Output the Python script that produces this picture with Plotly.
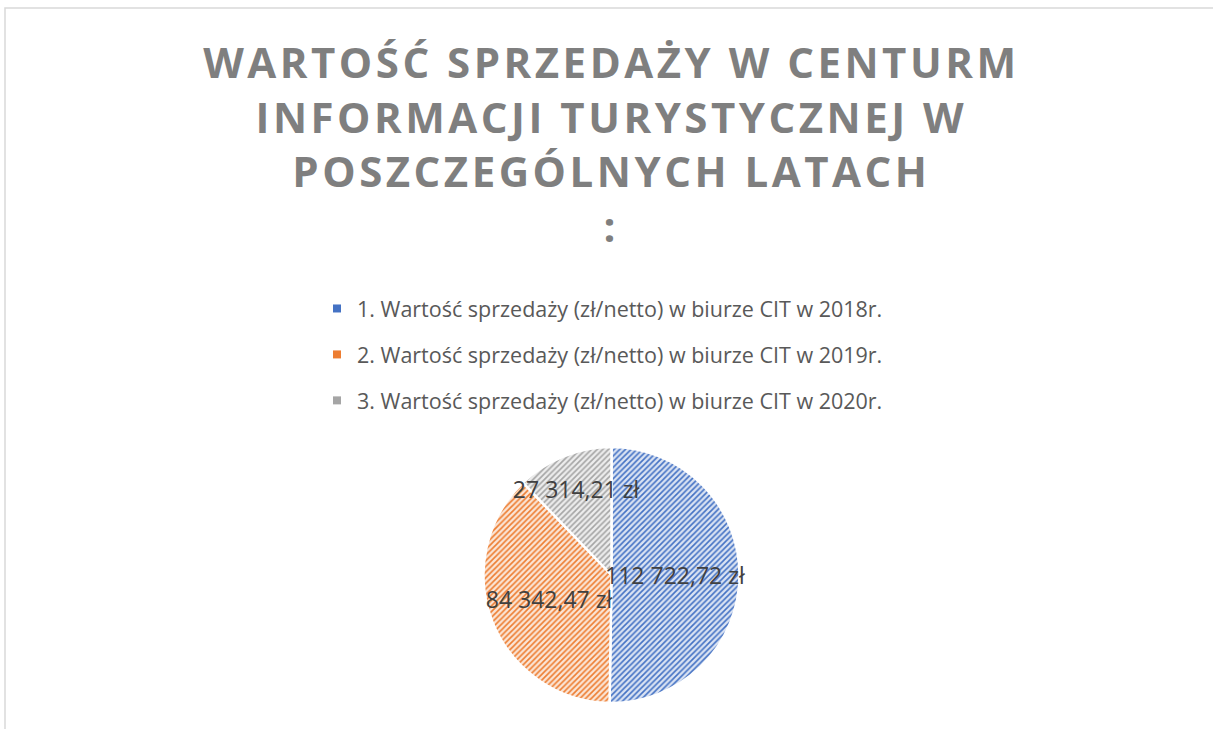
import plotly.graph_objects as go

labels = [
    "1. Wartość sprzedaży (zł/netto) w biurze CIT w 2018r.",
    "2. Wartość sprzedaży (zł/netto) w biurze CIT w 2019r.",
    "3. Wartość sprzedaży (zł/netto) w biurze CIT w 2020r.",
]
values = [112722.72, 84342.47, 27314.21]
colors = ["#4472C4", "#ED7D31", "#A5A5A5"]
bg_colors = ["#DAE3F3", "#FBE5D6", "#EDEDED"]
title_lines = ["WARTOŚĆ SPRZEDAŻY W CENTURM", "INFORMACJI TURYSTYCZNEJ W",
               "POSZCZEGÓLNYCH LATACH", ":"]

W, H = 1213, 729
pie_domain = dict(x=[483 / W, 740 / W], y=[1 - 703 / H, 1 - 447 / H])

title_text = "<br>".join(
    f"<span style='letter-spacing:3.5px'>{t}</span>" for t in title_lines)

fig = go.Figure()
# filled slices
fig.add_trace(go.Pie(
    labels=labels,
    values=values,
    sort=False,
    direction="clockwise",
    rotation=0,
    showlegend=False,
    marker=dict(
        colors=colors,
        line=dict(color="white", width=2.5),
        pattern=dict(shape="/", fgcolor=colors, bgcolor=bg_colors,
                     size=4, solidity=0.4, fillmode="replace"),
    ),
    textinfo="none",
    hoverinfo="skip",
    domain=pie_domain,
))
# data labels drawn on top of all slices
fig.add_trace(go.Pie(
    labels=labels,
    values=values,
    sort=False,
    direction="clockwise",
    rotation=0,
    showlegend=False,
    marker=dict(colors=["rgba(0,0,0,0)"] * 3, line=dict(width=0)),
    texttemplate="%{value:,.2f} zł",
    textposition="inside",
    insidetextorientation="horizontal",
    textfont=dict(family="Open Sans", size=23, color="#404040"),
    hoverinfo="skip",
    domain=pie_domain,
))

# legend entries (one legend group per category, to space them like the original)
for i, (lab, col) in enumerate(zip(labels, colors)):
    fig.add_trace(go.Scatter(
        x=[None], y=[None], mode="markers", name=lab,
        legendgroup=f"g{i}",
        marker=dict(symbol="square", size=8, color=col),
        hoverinfo="skip",
    ))

fig.update_layout(
    width=W, height=H,
    margin=dict(l=0, r=0, t=0, b=0),
    paper_bgcolor="white",
    plot_bgcolor="white",
    separators=", ",
    uniformtext=dict(minsize=23, mode="show"),
    xaxis=dict(visible=False),
    yaxis=dict(visible=False),
    title=dict(
        text=title_text,
        x=0.504, xanchor="center",
        y=1 - 78 / H, yanchor="top",
        font=dict(family="Open Sans", size=42, color="#7F7F7F", weight="bold"),
    ),
    legend=dict(
        x=317 / W, xanchor="left",
        y=1 - 288 / H, yanchor="top",
        tracegroupgap=15,
        font=dict(family="Open Sans", size=21.5, color="#595959"),
        bgcolor="rgba(0,0,0,0)",
    ),
    shapes=[dict(type="rect", xref="paper", yref="paper",
                 x0=5 / W, x1=1.01, y0=-0.01, y1=1 - 8 / H,
                 line=dict(color="#D9D9D9", width=1.5))],
)

fig.write_html("out.html", config={"displayModeBar": False},
               post_script="document.body.style.margin='0';")
